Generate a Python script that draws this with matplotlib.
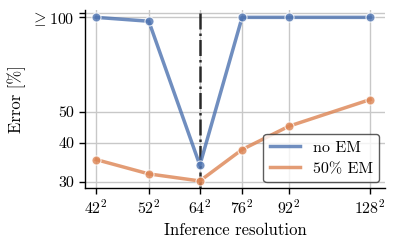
import matplotlib
matplotlib.use("Agg")
import matplotlib.pyplot as plt
from matplotlib.ticker import NullLocator
from matplotlib.lines import Line2D

res = [42, 52, 64, 76, 92, 128]
res_labels = [r"$%d^2$" % r for r in res]
no_em = [100, 97.2, 33.9, 100, 100, 100]
em50 = [35.3, 31.8, 30.2, 38.0, 45.1, 54.8]
ytick_vals = [30, 40, 50, 100]
ytick_labels = ["30", "40", "50", r"$\geq 100$"]

plt.rcParams.update({
    "font.family": "serif",
    "font.serif": ["cmr10"],
    "mathtext.fontset": "cm",
    "axes.formatter.use_mathtext": True,
    "font.size": 11,
})

blue = "#4c72b0"
orange = "#dd8452"

fig = plt.figure(figsize=(3.97, 2.45), dpi=100)
ax = fig.add_axes([0.214, 0.233, 0.756, 0.726])

ax.plot(res, no_em, color=blue, alpha=0.8, lw=2.5, marker="o", ms=6.5,
        mfc=blue, mec="white", mew=0.8, zorder=3)
ax.plot(res, em50, color=orange, alpha=0.8, lw=2.5, marker="o", ms=6.5,
        mfc=orange, mec="white", mew=0.8, zorder=3)
ax.axvline(64, color="black", ls="-.", lw=1.8, alpha=0.8, zorder=2)

ax.set_xscale("log")
ax.set_yscale("log")
ax.set_xlim(40.1, 136)
ax.set_ylim(28.7, 105.5)
ax.xaxis.set_minor_locator(NullLocator())
ax.set_xticks(res)
ax.set_xticklabels(res_labels)
ax.set_yticks(ytick_vals + [103])
ax.set_yticklabels(ytick_labels + [""])
ax.yaxis.set_minor_locator(NullLocator())

ax.grid(True, color="#c8c8c8", lw=1.0, zorder=0)
ax.spines["top"].set_visible(False)
ax.spines["right"].set_visible(False)
for s in ["left", "bottom"]:
    ax.spines[s].set_color("black")
    ax.spines[s].set_linewidth(1.0)
ax.tick_params(direction="out", length=4, width=1.0, labelsize=11.5)

ax.set_xlabel("Inference resolution", fontsize=12)
ax.set_ylabel("Error [%]", fontsize=12)

handles = [Line2D([], [], color=blue, alpha=0.8, lw=2.5),
           Line2D([], [], color=orange, alpha=0.8, lw=2.5)]
leg = ax.legend(handles, ["no EM", "50% EM"], loc="lower right", fontsize=11.5,
                frameon=True, fancybox=True, edgecolor="#333333",
                framealpha=0.8, handlelength=1.9, borderaxespad=0.35,
                labelspacing=0.45)
leg.get_frame().set_linewidth(1.0)

fig.savefig("out.png", dpi=100)
